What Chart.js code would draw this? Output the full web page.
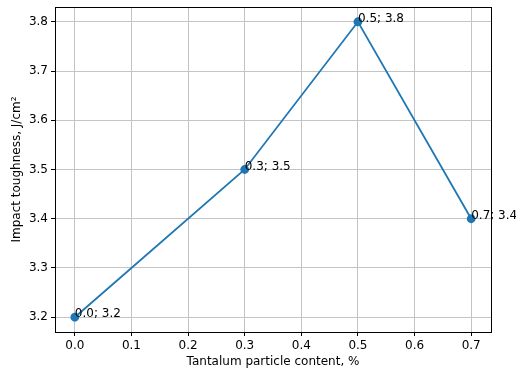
<!DOCTYPE html>
<html>
<head>
<meta charset="utf-8">
<script src="https://cdn.jsdelivr.net/npm/chart.js@4"></script>
<style>
    body { margin: 0; background: #fff; }
    #wrap { width: 516px; height: 371px; }
</style>
</head>
<body>
<div id="wrap"><canvas id="grafico" width="516" height="371"></canvas></div>
<script>
const xValues = [0.0, 0.3, 0.5, 0.7];
const yValues = [3.2, 3.5, 3.8, 3.4];
const pointLabels = ["0.0; 3.2", "0.3; 3.5", "0.5; 3.8", "0.7; 3.4"];

const fonte = "'DejaVu Sans', sans-serif";

// rotulos de cada ponto, desenhados na posicao do dado
const rotulos = {
    id: "rotulos",
    afterDatasetsDraw(chart) {
        const ctx = chart.ctx;
        const sx = chart.scales.x;
        const sy = chart.scales.y;
        ctx.save();
        ctx.font = "12px " + fonte;
        ctx.fillStyle = "#000";
        ctx.textAlign = "left";
        ctx.textBaseline = "alphabetic";
        xValues.forEach(function (x, i) {
            ctx.fillText(pointLabels[i], sx.getPixelForValue(x), sy.getPixelForValue(yValues[i]));
        });
        ctx.restore();
    }
};

// moldura completa (as quatro bordas)
const moldura = {
    id: "moldura",
    afterDraw(chart) {
        const a = chart.chartArea;
        const ctx = chart.ctx;
        ctx.save();
        ctx.strokeStyle = "#000";
        ctx.lineWidth = 1;
        ctx.strokeRect(Math.round(a.left) + 0.5, Math.round(a.top) + 0.5,
            Math.round(a.right - a.left), Math.round(a.bottom - a.top));
        ctx.restore();
    }
};

new Chart("grafico", {
    type: "line",
    data: {
        datasets: [{
            data: xValues.map(function (x, i) { return { x: x, y: yValues[i] }; }),
            borderColor: "#1f77b4",
            backgroundColor: "#1f77b4",
            borderWidth: 1.8,
            pointRadius: 3.5,
            pointHoverRadius: 3.5,
            tension: 0
        }]
    },
    options: {
        responsive: false,
        animation: false,
        events: [],
        layout: {
            padding: { top: 7, right: 25, left: 0, bottom: 0 }
        },
        plugins: {
            legend: { display: false },
            tooltip: { enabled: false }
        },
        scales: {
            x: {
                type: "linear",
                min: -0.035,
                max: 0.735,
                afterFit: function (s) {
                    s.height = 39;
                    s.paddingLeft = 0;
                    s.paddingRight = 0;
                },
                ticks: {
                    stepSize: 0.1,
                    includeBounds: false,
                    maxRotation: 0,
                    padding: 3,
                    color: "#000",
                    font: { family: fonte, size: 12 },
                    callback: function (v) { return Number(v).toFixed(1); }
                },
                grid: {
                    color: "#c4c4c4",
                    lineWidth: 1,
                    tickColor: "#000",
                    tickLength: 4
                },
                border: { display: true, color: "#000" },
                title: {
                    display: true,
                    text: "Tantalum particle content, %",
                    color: "#000",
                    font: { family: fonte, size: 12 },
                    padding: { top: 0, bottom: 2 }
                }
            },
            y: {
                type: "linear",
                min: 3.17,
                max: 3.83,
                afterFit: function (s) {
                    s.width = 55;
                    s.paddingTop = 0;
                    s.paddingBottom = 0;
                },
                ticks: {
                    stepSize: 0.1,
                    includeBounds: false,
                    padding: 3,
                    color: "#000",
                    font: { family: fonte, size: 12 },
                    callback: function (v) { return Number(v).toFixed(1); }
                },
                grid: {
                    color: "#c4c4c4",
                    lineWidth: 1,
                    tickColor: "#000",
                    tickLength: 4
                },
                border: { display: true, color: "#000" },
                title: {
                    display: true,
                    text: "Impact toughness, J/cm²",
                    color: "#000",
                    font: { family: fonte, size: 12 },
                    padding: { top: 10, bottom: 0 }
                }
            }
        }
    },
    plugins: [rotulos, moldura]
});
</script>
</body>
</html>
